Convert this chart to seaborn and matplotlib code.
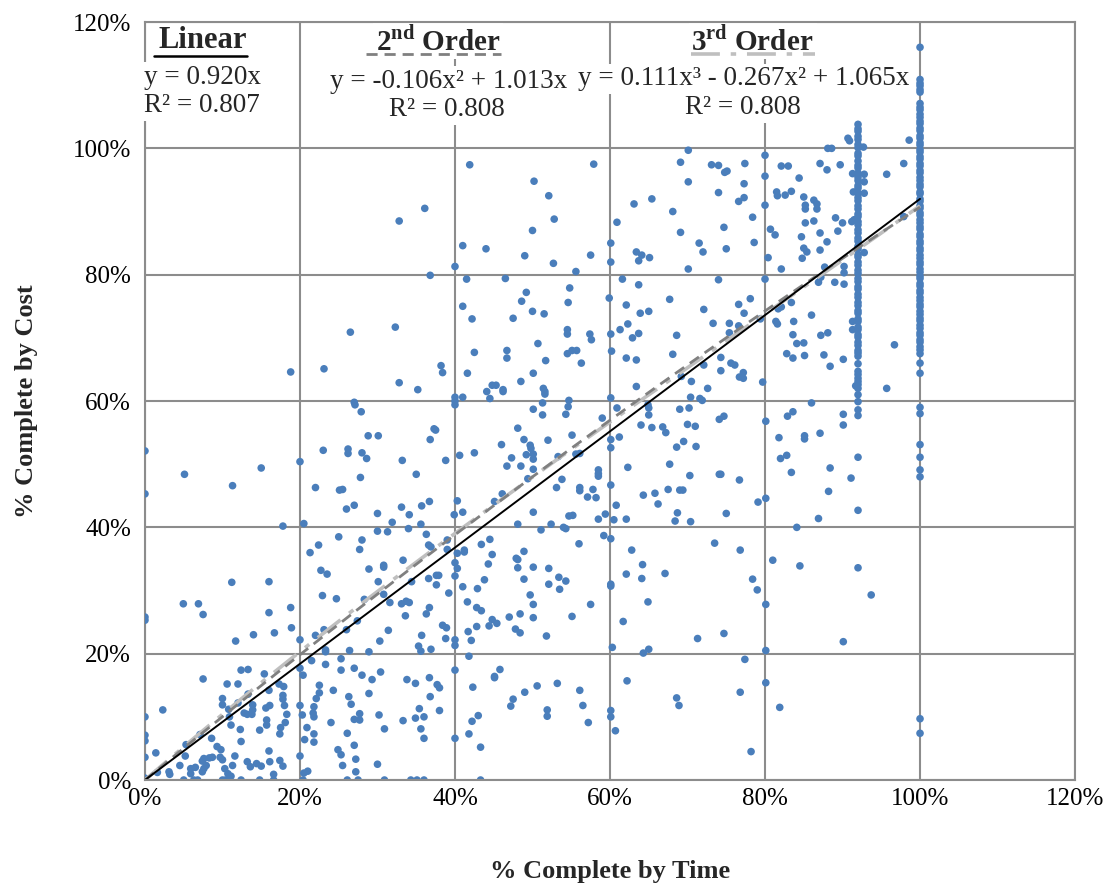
import numpy as np
import pandas as pd
import matplotlib
matplotlib.use("Agg")
import matplotlib.pyplot as plt
import seaborn as sns
from matplotlib.ticker import PercentFormatter

# ---------------- data (percent complete by time, percent complete by cost) ----------------
upper_mid = [(41.9,97.4),(50.2,94.8),(36.1,90.5),(32.8,88.5),(50.0,87.0),(41.0,84.6),(44.0,84.1),(49.0,83.0),
             (40.0,81.3),(36.8,79.9),(41.5,79.3),(46.5,79.4),(49.2,77.2),(48.6,75.8),(41.0,75.0),(50.0,74.2),
             (42.2,73.0),(47.5,73.1),(26.5,70.9),(32.3,71.7),(50.7,69.1)]

upper_right = [(70.1,99.7),(57.9,97.5),(69.1,97.8),(73.1,97.4),(74.0,97.3),(74.8,96.2),(75.1,96.4),(70.1,94.7),
               (74.0,93.0),(76.6,91.6),(52.1,92.5),(65.4,92.0),(63.1,91.2),(68.1,90.0),(52.8,88.8),(60.9,88.3),
               (74.7,87.5),(69.1,86.7),(60.1,85.0),(71.5,85.0),(72.0,83.6),(75.0,84.1),(63.4,83.6),(64.1,83.1),
               (63.7,82.2),(65.1,82.7),(57.5,83.1),(52.7,81.8),(60.1,82.0),(70.1,80.9),(55.6,80.5),(61.6,79.3),
               (74.0,79.2),(54.8,77.9),(63.7,78.4),(59.9,76.3),(54.6,75.6),(62.1,75.2),(67.7,76.1),(51.5,73.8),
               (63.9,73.9),(65.0,74.2),(72.1,74.5),(76.6,75.3),(54.5,71.3),(54.5,70.6),(57.4,70.6),(57.6,69.7),
               (60.1,70.6),(61.3,71.3),(62.3,72.2),(63.7,70.7),(62.9,70.0),(68.6,70.4),(73.3,72.3),(75.4,72.3),
               (76.6,71.9),(75.4,70.8)]

upper_far = [(90.7,101.6),(90.9,101.2),(92.7,100.2),(91.3,96.0),(92.8,95.9),(92.8,94.7),(92.8,92.9),(91.4,93.1),
             (91.5,88.7),(91.2,88.4),(92.8,83.5),(90.2,81.3),(90.2,80.3),(90.2,78.5),(91.3,72.6),(91.3,71.3),
             (98.6,101.3),(97.9,97.6),(95.7,95.9),(97.9,89.2),(96.7,68.9),
             (88.1,100.0),(88.6,100.0),(87.1,97.6),(89.7,97.4),(88.0,96.6),(82.1,97.2),(83.0,97.2),(80.0,98.9),
             (80.0,95.6),(80.0,91.0),(77.4,97.6),(77.3,94.4),(77.3,92.2),(84.4,95.3),(81.5,93.1),(81.6,92.5),
             (82.6,92.6),(83.4,93.2),(85.0,92.3),(85.2,91.0),(85.2,90.4),(86.3,91.8),(86.7,91.2),(86.7,90.4),
             (78.4,89.1),(85.2,88.2),(86.3,88.5),(89.1,89.0),(90.0,88.2),(89.4,86.9),(80.7,87.2),(81.3,86.3),
             (87.1,86.6),(84.7,86.0),(88.0,85.2),(78.6,85.1),(85.0,84.2),(85.4,83.6),(87.1,83.9),(84.8,82.6),
             (80.4,82.7),(82.1,80.9),(80.0,79.3),(86.9,78.8),(87.2,79.6),(87.7,81.2),(89.0,78.8),(77.3,73.9),
             (78.1,76.2),(81.7,74.6),(82.1,74.9),(83.4,75.6),(81.4,72.6),(81.6,72.2),(83.7,72.6),(86.0,73.6),
             (83.6,70.5),(84.1,69.1),(85.0,69.2),(87.2,70.4),(88.1,70.8),(79.4,73.0)]

mid_left = [(18.8,64.6),(23.1,65.1),(5.1,48.4),(11.3,46.6),(15.0,49.4),(20.0,50.4),(23.0,52.2),(22.0,46.3),
            (25.1,45.9),(17.8,40.2),(20.5,40.6),(25.0,38.5),(22.4,37.2),(21.3,36.0)]

zero_time = [(0,52.1),(0,45.3),(0,25.8),(0,25.3),(0,10.0),(0,7.1),(0,6.2),(0,3.6),(0,0.3)]

mid_center = [(42.5,67.7),(46.7,68.0),(46.7,66.8),(38.2,65.6),(38.4,64.5),(41.6,64.4),(50.1,64.4),(32.8,62.9),
              (35.2,61.8),(48.5,63.1),(44.8,62.5),(45.3,62.5),(44.1,61.5),(44.5,60.4),(46.2,61.8),(46.2,61.5),
              (40.0,60.6),(40.0,60.0),(40.0,59.4),(41.0,60.6),(27.0,59.8),(27.1,59.4),(27.9,58.3),(50.1,58.7),
              (37.3,55.6),(37.5,55.4),(36.8,53.9),(28.8,54.5),(30.1,54.5),(26.2,52.4),(26.2,51.7),(28.0,51.8),
              (28.6,50.9),(33.2,50.6),(38.8,50.6),(40.6,51.4),(42.5,51.8),(48.1,55.7),(48.9,53.9),(49.7,53.0),
              (49.8,52.5),(49.2,51.5),(50.1,51.6),(50.1,50.8),(46.0,53.1),(47.3,51.0),(46.7,49.7),(48.5,49.7),
              (50.1,49.2),(49.4,47.7),(27.8,47.9),(35.0,48.4),(25.5,46.0),(26.0,42.9),(27.0,43.5),(30.0,42.2),
              (31.9,40.8),(33.1,43.2),(34.1,42.0),(35.7,43.4),(36.7,44.1),(30.0,39.4),(31.3,39.3),(34.0,39.8),
              (35.6,40.5),(40.3,44.2),(39.9,42.0),(41.0,42.4),(45.1,44.1),(46.1,45.3),(50.1,42.4),(48.1,40.5),
              (28.0,38.0),(27.7,36.5),(36.3,38.9),(36.6,37.2),(36.9,36.9),(39.0,38.0),(39.0,36.5),(40.3,35.9),
              (41.2,36.4),(41.2,36.1),(43.4,37.3),(44.5,38.1),(44.8,35.7),(48.9,36.2),(47.9,35.1),(48.1,34.9),
              (50.1,33.7),(33.3,34.8),(30.8,34.0),(30.8,33.7),(28.9,33.4),(40.0,34.4),(40.3,33.5),(44.3,34.2),
              (48.1,33.6)]

mid_right = [(54.5,67.5),(55.1,68.0),(55.7,68.0),(51.7,66.4),(56.3,66.0),(60.2,67.9),(62.1,66.8),(63.4,66.5),
             (68.1,67.4),(74.3,66.9),(75.6,66.0),(76.1,65.7),(74.3,64.8),(76.7,63.8),(72.1,65.7),(70.5,63.1),
             (69.2,63.9),(72.6,62.0),(51.4,62.0),(51.6,61.5),(51.6,61.1),(63.4,62.3),(60.1,60.5),(54.7,60.1),
             (51.3,59.7),(51.3,57.8),(54.6,59.1),(54.3,57.9),(60.9,58.9),(59.0,57.3),(64.9,59.4),(65.0,58.9),
             (65.0,57.8),(64.0,56.2),(65.4,55.8),(66.8,55.9),(67.2,55.0),(70.4,60.6),(71.6,60.4),(71.9,60.1),
             (70.2,58.9),(69.0,58.7),(71.0,56.0),(70.0,56.3),(74.1,57.1),(74.7,57.6),(55.1,54.6),(60.1,53.9),
             (60.1,52.6),(61.2,54.3),(52.0,53.8),(68.6,52.7),(69.5,53.6),(71.1,52.8),(53.3,51.2),(55.6,51.6),
             (56.1,51.7),(62.3,49.5),(67.7,50.0),(58.5,49.1),(58.5,48.5),(58.5,48.1),(53.8,47.6),(53.1,46.3),
             (56.1,46.3),(56.1,45.8),(57.8,46.0),(58.2,44.7),(57.1,44.8),(60.1,46.7),(70.3,48.2),(74.1,48.4),
             (74.3,48.4),(76.7,47.5),(64.3,45.1),(65.8,45.4),(66.2,43.7),(67.5,46.0),(69.0,45.9),(69.4,45.9),
             (60.8,43.5),(68.7,42.3),(68.4,41.0),(70.4,40.9),(75.0,42.2),(54.7,41.8),(55.2,41.9),(59.4,42.1),
             (58.5,41.3),(60.5,41.2),(62.1,41.3),(52.4,40.5),(51.1,39.6),(54.0,40.0),(54.3,39.8),(59.2,38.7),
             (60.1,38.2),(56.0,37.4),(73.5,37.5),(76.8,36.4),(62.8,36.4),(64.2,34.1),(52.1,33.5)]

mid_far = [(82.8,67.5),(83.6,66.8),(85.1,67.2),(87.6,67.3),(90.1,66.6),(88.4,65.5),(77.2,64.5),(77.2,63.6),
           (79.7,63.0),(91.7,62.4),(95.7,62.0),(86.0,59.7),(83.6,58.3),(82.9,57.6),(80.1,56.8),(90.1,57.9),
           (90.1,56.2),(81.8,54.2),(85.1,54.5),(85.1,54.0),(87.1,54.9),(82.8,51.4),(82.0,50.9),(88.4,49.4),
           (83.4,48.7),(91.1,47.8),(88.2,45.7),(80.1,44.6),(79.1,44.0),(86.9,41.4),(84.1,40.0),(81.0,34.8),
           (84.5,33.9)]

low_left = [(11.2,31.3),(16.0,31.4),(4.95,27.9),(6.9,27.9),(7.5,26.2),(16.0,26.5),(18.8,27.3),(11.7,22.0),
            (14.0,23.0),(16.7,23.3),(18.9,24.1),(20.0,22.2),(22.0,22.9),(23.1,23.8),(22.9,29.2),(24.7,28.7),
            (22.7,33.2),(23.5,32.6),(23.3,20.6),(23.3,20.3),(21.5,18.9),(23.3,18.3),(20.0,17.7),(20.4,16.6),
            (12.4,17.4),(13.3,17.5),(7.5,16.0),(10.6,15.2),(12.0,15.2),(15.4,16.8),(17.3,15.2),(17.9,14.8),
            (16.0,14.2),(13.3,13.6),(22.5,15.0),(22.5,13.8),(24.3,14.2),(10.0,12.9),(10.0,11.9),(10.8,11.2),
            (12.0,12.2),(13.9,11.9),(13.9,11.1),(12.8,10.6),(13.2,10.4),(13.8,10.4),(16.1,11.8),(15.6,11.4),
            (17.8,13.4),(17.8,12.8),(18.0,11.8),(18.3,10.4),(15.7,9.5),(15.7,8.7),(14.8,7.9),(12.3,8.0),
            (10.9,10.0),(11.1,8.7),(17.5,8.3),(17.4,7.3),(18.1,9.1),(20.0,11.8),(20.3,10.3),(20.9,8.3),
            (20.6,6.4),(21.8,7.3),(21.8,6.0),(22.1,12.9),(21.8,11.6),(21.7,10.6),(21.8,10.0),(24.0,9.1),
            (24.9,4.8),(25.3,4.0),(2.3,11.1),(1.4,4.3),(7.1,7.2),(5.3,5.6),(5.2,3.8),(3.1,1.3),(3.2,0.9),
            (1.6,1.2),(4.5,2.3),(6.5,2.0),(5.9,1.8),(5.9,1.0),(7.4,3.0),(7.6,3.4),(8.3,3.5),(8.7,3.6),
            (7.9,2.3),(7.4,1.3),(7.6,1.8),(8.6,6.6),(9.3,5.3),(9.8,4.8),(9.7,3.6),(10.0,3.2),(10.3,1.8),
            (10.7,1.0),(11.1,0.6),(11.6,3.8),(11.3,2.3),(12.4,6.1),(13.2,2.9),(13.6,2.1),(14.4,2.6),(15.0,2.2),
            (16.1,2.9),(16.0,4.6),(17.4,3.1),(17.8,2.2),(16.6,0.9),(20.0,3.8),(20.5,1.1),(21.0,1.4),(5.0,0.0),
            (6.3,0.0),(6.8,0.0),(10.0,0.0),(10.4,0.0),(12.4,0.0),(14.8,0.0),(16.6,0.0),(20.4,0.0)]

low_center = [(30.1,31.4),(34.4,31.4),(30.8,29.4),(31.6,28.1),(28.3,28.6),(27.4,25.2),(26.0,23.8),(36.6,31.9),
              (37.6,32.4),(37.9,32.4),(37.6,30.9),(40.0,32.3),(39.2,29.6),(41.0,30.6),(42.9,30.3),(43.8,31.7),
              (33.1,27.9),(33.7,28.3),(34.1,28.1),(36.7,27.3),(36.3,26.3),(33.6,26.0),(31.4,23.7),(30.3,22.0),
              (35.7,22.9),(35.3,21.2),(35.6,20.4),(36.9,20.7),(38.4,24.5),(38.9,24.1),(38.8,22.4),(40.0,22.2),
              (40.0,21.3),(41.7,23.5),(42.1,22.1),(42.8,24.3),(41.6,28.2),(42.8,27.3),(43.4,26.8),(44.8,25.4),
              (44.4,24.4),(45.4,24.8),(47.0,25.8),(47.8,23.9),(48.4,23.3),(48.4,26.3),(49.7,29.3),(50.1,27.8),
              (50.1,25.7),(48.9,31.8),(26.4,20.5),(28.9,20.3),(41.8,19.6),(40.0,17.4),(25.3,19.2),(25.3,17.4),
              (27.0,17.7),(28.0,16.6),(29.3,15.9),(30.4,17.1),(33.8,15.9),(34.9,15.3),(36.7,16.2),(37.7,15.1),
              (38.0,14.6),(28.9,13.7),(26.3,13.2),(26.6,12.0),(36.8,13.2),(42.3,14.7),(45.1,16.4),(45.1,16.2),
              (45.8,17.5),(47.5,12.8),(47.2,11.7),(49.0,13.9),(50.6,14.9),(35.4,11.3),(34.9,9.8),(36.0,10.0),
              (38.0,11.0),(30.2,10.3),(27.0,9.6),(27.7,10.5),(27.7,9.5),(33.3,9.4),(30.9,8.1),(35.6,8.1),
              (36.0,6.6),(43.0,10.2),(42.2,9.3),(41.8,7.3),(40.0,6.6),(43.3,5.2),(26.1,7.4),(27.0,5.5),
              (27.2,3.3),(25.5,2.3),(27.2,1.3),(30.0,2.5),(26.1,0.0),(27.5,0.0),(30.9,0.0),(34.3,0.0),
              (35.1,0.0),(36.0,0.0),(43.3,0.0)]

low_right = [(53.4,32.1),(52.1,31.0),(54.3,31.5),(53.5,30.2),(60.1,31.0),(60.1,30.7),(62.1,32.6),(64.1,31.9),
             (67.1,32.7),(57.5,27.8),(64.9,28.2),(55.1,25.9),(61.7,25.1),(51.8,22.8),(71.3,22.4),(74.7,23.2),
             (60.3,21.0),(64.3,20.1),(65.0,20.7),(53.2,15.3),(56.1,14.2),(62.2,15.7),(56.5,11.8),(51.9,11.1),
             (51.9,10.1),(57.2,9.1),(60.1,11.0),(60.1,10.0),(60.7,7.8),(68.6,13.0),(68.9,11.8),(76.8,13.9)]

low_far = [(78.4,31.8),(79.0,30.1),(80.1,27.8),(93.7,29.3),(90.1,21.9),(80.1,20.5),(77.4,19.1),(80.1,15.4),
           (81.9,11.5),(78.2,4.5)]

# cost values of the two dense columns of points (time = 92 % and time = 100 %)
col92_cost = [103.8,103.1,102.7,101.9,101.4,100.6,100.1,99.2,98.8,98.0,97.3,96.9,96.1,95.4,94.9,94.1,93.7,
              92.9,92.2,91.7,90.9,90.4,89.6,89.2,88.4,87.9,87.1,86.6,85.8,85.3,84.5,84.1,83.2,82.8,82.0,
              81.5,80.7,80.2,79.4,78.9,78.1,77.7,76.9,76.4,75.6,75.1,74.3,73.9,73.0,72.6,71.7,71.3,70.5,
              70.1,69.3,68.8,68.0,67.6,67.1,65.9,64.7,64.2,63.6,63.1,62.6,62.0,61.0,59.9,58.6,57.7,51.1,
              42.7,33.6]
col100_cost = [116.0,110.9,110.3,109.9,109.3,108.9,107.1,106.5,106.1,105.4,104.9,104.3,103.9,103.2,102.8,
               102.0,101.6,100.9,100.5,99.8,99.4,98.7,98.3,97.6,97.2,96.5,96.1,95.4,94.9,94.3,93.9,93.1,
               92.8,92.0,91.6,90.9,90.5,89.8,89.4,88.7,88.2,87.6,87.2,86.4,86.0,85.3,84.9,84.2,83.8,83.1,
               82.6,82.0,81.6,80.9,80.4,79.8,79.4,78.6,78.2,77.5,77.1,76.4,75.9,75.3,74.9,74.2,73.7,73.1,
               72.7,72.0,71.5,70.8,70.4,69.7,69.3,68.6,68.1,67.5,66.0,64.4,59.0,58.0,53.1,51.1,49.1,48.0,
               9.7,7.4]

# trend line coefficients (highest power first, zero intercept)
linear_coef = [0.920, 0.0]
quad_coef = [-0.106, 1.013, 0.0]
cubic_coef = [0.111, -0.267, 1.065, 0.0]

tick_vals = [0.0, 0.2, 0.4, 0.6, 0.8, 1.0, 1.2]

# ---------------- build table ----------------
pairs = (upper_mid + upper_right + upper_far + mid_left + zero_time + mid_center + mid_right +
         mid_far + low_left + low_center + low_right + low_far +
         [(92.0, c) for c in col92_cost] + [(100.0, c) for c in col100_cost])
df = pd.DataFrame(pairs, columns=["time", "cost"]) / 100.0

# ---------------- style ----------------
sns.set_theme(style="white")
plt.rcParams['font.family'] = ['Liberation Serif', 'DejaVu Serif']
plt.rcParams['mathtext.fontset'] = 'custom'
plt.rcParams['mathtext.rm'] = 'Liberation Serif'
plt.rcParams['mathtext.bf'] = 'Liberation Serif:bold'

GRID = '#8C8C8C'
fig = plt.figure(figsize=(11.1, 8.88), dpi=100)
ax = fig.add_axes([0.1306, 0.1216, 0.8379, 0.8536])

ax.set_xlim(0, 1.2)
ax.set_ylim(0, 1.2)
ax.set_xticks(tick_vals)
ax.set_yticks(tick_vals)
ax.xaxis.set_major_formatter(PercentFormatter(1.0, decimals=0))
ax.yaxis.set_major_formatter(PercentFormatter(1.0, decimals=0))
ax.grid(True, color=GRID, linewidth=1.5)
ax.set_axisbelow(True)
for name, s in ax.spines.items():
    s.set_color(GRID)
    s.set_linewidth(1.5)
    if name != 'left':
        s.set_zorder(10)
ax.tick_params(axis='both', which='major', labelsize=18, colors='black', length=0)
ax.tick_params(axis='x', pad=6)
ax.tick_params(axis='y', pad=10)

# trend lines
xs = np.linspace(0, 1.0, 200)
ax.plot(xs, np.polyval(cubic_coef, xs), color='#BFBFBF', lw=2.6, dashes=[8, 3, 1.5, 3], zorder=4)
ax.plot(xs, np.polyval(quad_coef, xs), color='#808080', lw=2.0, dashes=[4, 2.5], zorder=4)

sns.scatterplot(data=df, x="time", y="cost", ax=ax, color='#4A7EBB', s=30,
                edgecolor='none', linewidth=0, legend=False, zorder=3)

ax.plot(xs, np.polyval(linear_coef, xs), color='black', lw=1.4, zorder=5)

ax.set_xlabel("% Complete by Time", fontsize=19, fontweight='bold', labelpad=36)
ax.set_ylabel("% Complete by Cost", fontsize=19, fontweight='bold', labelpad=25)

# ---------------- annotations ----------------
box = dict(facecolor='white', edgecolor='none', pad=2)
def label(x, y, s, bold=False, size=19.5):
    ax.text(x, y, s, ha='center', va='center', fontsize=size,
            fontweight='bold' if bold else 'normal', bbox=box, zorder=6)

label(0.074, 1.170, "Linear", bold=True, size=22)
ax.plot([0.012, 0.132], [1.146, 1.146], color='black', lw=1.8, zorder=7)
label(0.074, 1.112, "y = 0.920x")
label(0.074, 1.068, "R² = 0.807")

label(0.378, 1.170, r"2$^{\mathbf{nd}}$ Order", bold=True, size=21)
ax.plot([0.285, 0.459], [1.150, 1.150], color='#808080', lw=2.0, dashes=[4, 2.5], zorder=7)
label(0.392, 1.106, "y = -0.106x² + 1.013x")
label(0.390, 1.061, "R² = 0.808")

label(0.784, 1.170, r"3$^{\mathbf{rd}}$ Order", bold=True, size=21)
ax.plot([0.704, 0.865], [1.150, 1.150], color='#BFBFBF', lw=2.6, dashes=[8, 3, 1.5, 3], zorder=7)
label(0.772, 1.110, "y = 0.111x³ - 0.267x² + 1.065x")
label(0.772, 1.065, "R² = 0.808")

fig.savefig("out.png", dpi=100)
